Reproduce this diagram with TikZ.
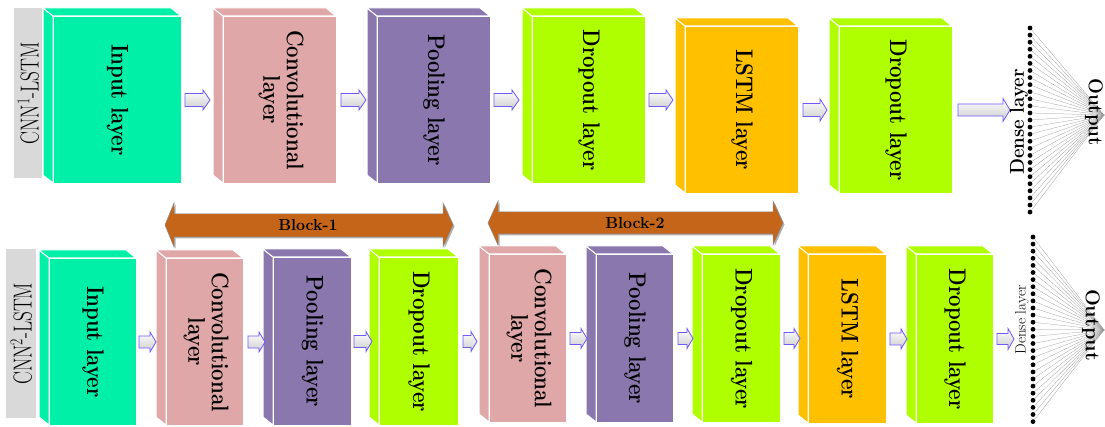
\documentclass[tikz,border=0pt]{standalone}
\usetikzlibrary{calc}
\definecolor{inputc}{RGB}{0,240,168}
\definecolor{convc}{RGB}{223,167,167}
\definecolor{poolc}{RGB}{137,119,174}
\definecolor{dropc}{RGB}{175,255,0}
\definecolor{lstmc}{RGB}{255,192,0}
\definecolor{grayc}{RGB}{217,217,217}
\definecolor{blockc}{RGB}{197,101,26}
\definecolor{arrowc}{RGB}{110,90,255}
\tikzset{
  face/.style={draw=white, line width=1pt, inner sep=0pt, anchor=north west,
    font=\fontsize{24}{23}\selectfont\bfseries},
  sideface/.style={draw=white, line width=1pt},
  flowarrow/.style={draw=arrowc, line width=0.8pt, top color=white, bottom color=black!20},
  dot/.style={circle, fill=black, inner sep=0pt, minimum size=4.8pt},
  nnline/.style={draw=black!40, line width=0.25pt},
  graylbl/.style={fill=grayc, inner sep=0pt, anchor=north west, font=\fontsize{26}{28}\selectfont},
  blockarrow/.style={fill=blockc, draw=black!45, line width=0.5pt,
    preaction={fill=black!30, transform canvas={shift={(1.5pt,-1.5pt)}}}},
  blocktext/.style={font=\fontsize{16}{18}\selectfont\bfseries},
}
% name, x1, y1, x2, y2, colour, text
\newcommand{\layerbox}[7]{%
  \filldraw[sideface, fill=#6] (#2-10,#3-8) -- (#2,#3) -- (#2,#5) -- (#2-10,#5-8) -- cycle;
  \filldraw[sideface, fill=#6] (#2-10,#3-8) -- (#4-10,#3-8) -- (#4,#3) -- (#2,#3) -- cycle;
  \node[face, fill=#6, minimum width={(#4-#2)*1pt}, minimum height={(#5-#3)*1pt}] (#1) at (#2,#3)
    {\rotatebox{-90}{\scalebox{0.85}[1]{#7}}};
}
% start, end, head half height, shaft half height, head length
\newcommand{\flow}[5]{%
  \draw[flowarrow] let \p1=#1, \p2=#2 in
    (\x1,\y1-#4) -- (\x2-#5,\y1-#4) -- (\x2-#5,\y1-#3) -- (\x2,\y1) --
    (\x2-#5,\y1+#3) -- (\x2-#5,\y1+#4) -- (\x1,\y1+#4) -- cycle;
}
\newcommand{\twol}[2]{\begin{tabular}{@{}c@{}}#1\\#2\end{tabular}}
\begin{document}
\begin{tikzpicture}[x=1pt,y=-1pt]
\useasboundingbox (0,0) rectangle (1105,427);
\fill[white] (0,0) rectangle (1105,427);

% ---------- top row ----------
\node[graylbl, minimum width=28pt, minimum height=170pt] (lab1) at (14,8)
  {\rotatebox{90}{\scalebox{0.74}[1]{CNN\textsuperscript{1}-LSTM}}};
\layerbox{in1}{53}{16}{181}{183}{inputc}{Input layer}
\layerbox{cv1}{223}{16}{336}{183}{convc}{\twol{Convolutional}{layer}}
\layerbox{pl1}{377}{16}{490}{183}{poolc}{Pooling layer}
\layerbox{dr1}{532}{16}{645}{183}{dropc}{Dropout layer}
\layerbox{ls1}{685}{26}{798}{193}{lstmc}{LSTM layer}
\layerbox{dr2}{839}{26}{952}{193}{dropc}{Dropout layer}

\flow{($(in1.east)+(3,0)$)}{($(cv1.west)+(-13,0)$)}{10pt}{6.5pt}{7pt}
\flow{($(cv1.east)+(4,0)$)}{($(pl1.west)+(-11,0)$)}{10pt}{6.5pt}{7pt}
\flow{($(pl1.east)+(3,0)$)}{($(dr1.west)+(-13,0)$)}{10pt}{6.5pt}{7pt}
\flow{($(dr1.east)+(3,0)$)}{($(ls1.west)+(-12,0)$)}{10pt}{6.5pt}{7pt}
\flow{($(ls1.east)+(4,0)$)}{($(dr2.west)+(-12,0)$)}{11pt}{6.5pt}{7pt}
\coordinate (den1) at (1010,110);
\flow{($(dr2.east)+(5,0)$)}{(den1)}{11.5pt}{6pt}{7pt}

\coordinate (tout) at (1104,115);
\foreach \i in {0,...,26} \node[dot] (td\i) at (1030,28+\i*7.08) {};
\foreach \i in {0,...,26} \draw[nnline] (td\i) -- (tout);
\node[rotate=90, font=\fontsize{20}{22}\selectfont\bfseries] (dl1) at (1019,122)
  {\scalebox{0.93}[1]{Dense layer}};
\node[rotate=-90, font=\fontsize{20}{22}\selectfont\bfseries] (ou1) at (1094,112)
  {\scalebox{0.94}[1]{Output}};

% ---------- bottom row ----------
\node[graylbl, minimum width=30pt, minimum height=169pt] (lab2) at (6,249)
  {\rotatebox{90}{\scalebox{0.74}[1]{CNN\textsuperscript{2}-LSTM}}};
\layerbox{in2}{49}{258}{136}{425}{inputc}{Input layer}
\layerbox{cv2}{166}{258}{243}{425}{convc}{\twol{Convolutional}{layer}}
\layerbox{pl2}{273}{257}{351}{425}{poolc}{Pooling layer}
\layerbox{dr3}{379}{257}{458}{425}{dropc}{Dropout layer}
\layerbox{cv3}{489}{254}{566}{422}{convc}{\twol{Convolutional}{layer}}
\layerbox{pl3}{596}{254}{673}{422}{poolc}{Pooling layer}
\layerbox{dr4}{702}{254}{780}{422}{dropc}{Dropout layer}
\layerbox{ls2}{808}{254}{886}{423}{lstmc}{LSTM layer}
\layerbox{dr5}{916}{254}{993}{423}{dropc}{Dropout layer}

\flow{($(in2.east)+(2,0)$)}{($(cv2.west)+(-10,0)$)}{10pt}{6pt}{6pt}
\flow{($(cv2.east)+(4,0)$)}{($(pl2.west)+(-8,0)$)}{10pt}{6pt}{6pt}
\flow{($(pl2.east)+(2,0)$)}{($(dr3.west)+(-7,0)$)}{10pt}{6pt}{6pt}
\flow{($(dr3.east)+(4,0)$)}{($(cv3.west)+(-12,0)$)}{10pt}{6pt}{6pt}
\flow{($(cv3.east)+(3,0)$)}{($(pl3.west)+(-9,0)$)}{10pt}{6pt}{6pt}
\flow{($(pl3.east)+(4,0)$)}{($(dr4.west)+(-9,0)$)}{10pt}{6pt}{6pt}
\flow{($(dr4.east)+(3,0)$)}{($(ls2.west)+(-8,0)$)}{10pt}{6pt}{6pt}
\flow{($(ls2.east)+(3,0)$)}{($(dr5.west)+(-9,0)$)}{10pt}{6pt}{6pt}
\coordinate (den2) at (1014,338);
\flow{($(dr5.east)+(3,0)$)}{(den2)}{10.5pt}{5.5pt}{6pt}

\coordinate (bout) at (1104,330);
\foreach \i in {0,...,26} \node[dot] (bd\i) at (1033,237+\i*7.1) {};
\foreach \i in {0,...,26} \draw[nnline] (bd\i) -- (bout);
\node[rotate=90, font=\fontsize{15}{17}\selectfont] (dl2) at (1022,320) {Dense layer};
\node[rotate=-90, font=\fontsize{20}{22}\selectfont\bfseries] (ou2) at (1091,325) {Output};

% ---------- block arrows ----------
\filldraw[blockarrow] (165,225) -- (174,203) -- (174,214) -- (443,214) -- (443,203) -- (453,225)
  -- (443,247) -- (443,237) -- (174,237) -- (174,247) -- cycle;
\node[blocktext] (blk1) at (308,225) {Block-1};
\filldraw[blockarrow] (488,223) -- (498,201) -- (498,212) -- (773,212) -- (773,201) -- (783,223)
  -- (773,245) -- (773,234) -- (498,234) -- (498,245) -- cycle;
\node[blocktext] (blk2) at (635,223) {Block-2};
\end{tikzpicture}
\end{document}
